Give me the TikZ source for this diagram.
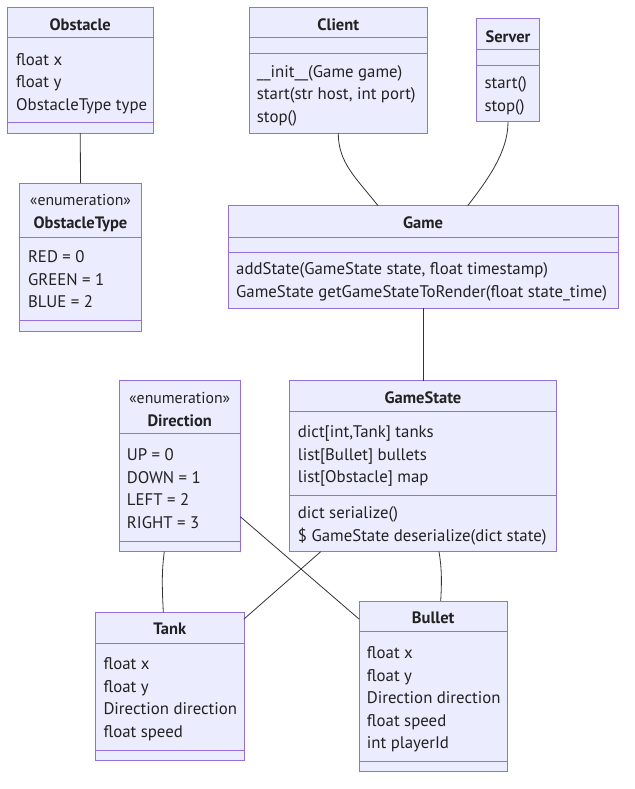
\documentclass[tikz,border=0pt]{standalone}
\usepackage{fontspec}
\setmainfont{PT Sans}
\definecolor{boxfill}{HTML}{ECECFF}
\definecolor{boxline}{HTML}{9370DB}
\definecolor{edgec}{HTML}{333333}
\definecolor{txtc}{HTML}{222222}
\begin{document}
\begin{tikzpicture}[x=1pt,y=-1pt,
  cls/.style={draw=boxline, fill=boxfill, line width=1pt, anchor=north west, inner sep=0pt, outer sep=0pt},
  sepl/.style={draw=boxline, line width=1pt},
  txt/.style={anchor=base west, inner sep=0pt, font=\fontsize{16.8}{19}\selectfont, text=txtc},
  ttl/.style={anchor=base, inner sep=0pt, font=\fontsize{16.5}{19}\selectfont\bfseries, text=txtc},
  ster/.style={anchor=base, inner sep=0pt, font=\fontsize{15.8}{17}\selectfont, text=txtc},
  link/.style={draw=edgec, line width=0.8pt}]
\useasboundingbox (0,0) rectangle (634,789);
\fill[white] (0,0) rectangle (634,789);

% ---------- Obstacle
\node[cls, minimum width=145.5pt, minimum height=125.5pt] (obst) at (7.5,7.5) {};
\draw[sepl] (7.5,38) -- (153,38);
\draw[sepl] (7.5,123) -- (153,123);
\node[ttl] (obstT) at (80.25,30.5) {Obstacle};
\foreach \t [count=\i] in {float x, float y, ObstacleType type}
  \node[txt] (obstA\i) at (16,{65.5+(\i-1)*22.5}) {\t};

% ---------- ObstacleType
\node[cls, minimum width=122pt, minimum height=148pt] (otype) at (19.5,183) {};
\draw[sepl] (19.5,237) -- (141.5,237);
\draw[sepl] (19.5,320) -- (141.5,320);
\node[ster] (otypeS) at (80.5,205) {«enumeration»};
\node[ttl] (otypeT) at (80.5,228.5) {ObstacleType};
\foreach \t [count=\i] in {RED = 0, GREEN = 1, BLUE = 2}
  \node[txt] (otypeA\i) at (27.8,{262.5+(\i-1)*22.5}) {\t};

% ---------- Client
\node[cls, minimum width=177.5pt, minimum height=125.5pt] (client) at (249.5,7.5) {};
\draw[sepl] (249.5,38) -- (427,38);
\draw[sepl] (249.5,54) -- (427,54);
\node[ttl] (clientT) at (338.25,30.5) {Client};
\foreach \t [count=\i] in {{\_\_init\_\_(Game game)}, {start(str host, int port)}, {stop()}}
  \node[txt] (clientM\i) at (256.7,{77.5+(\i-1)*22.5}) {\t};

% ---------- Server
\node[cls, minimum width=62.6pt, minimum height=103pt] (server) at (476.7,19) {};
\draw[sepl] (476.7,50) -- (539.3,50);
\draw[sepl] (476.7,66) -- (539.3,66);
\node[ttl] (serverT) at (508,42.5) {Server};
\foreach \t [count=\i] in {start(), stop()}
  \node[txt] (serverM\i) at (484.3,{88.5+(\i-1)*22.5}) {\t};

% ---------- Game
\node[cls, minimum width=390pt, minimum height=102.3pt] (game) at (228,205.7) {};
\draw[sepl] (228,237) -- (618,237);
\draw[sepl] (228,252.5) -- (618,252.5);
\node[ttl] (gameT) at (423,228.5) {Game};
\foreach \t [count=\i] in {{addState(GameState state, float timestamp)}, {GameState getGameStateToRender(float state\_time)}}
  \node[txt] (gameM\i) at (236,{274.5+(\i-1)*22.5}) {\t};

% ---------- GameState
\node[cls, minimum width=267.4pt, minimum height=171pt] (gs) at (289.3,380.7) {};
\draw[sepl] (289.3,411.7) -- (556.7,411.7);
\draw[sepl] (289.3,495.3) -- (556.7,495.3);
\node[ttl] (gsT) at (423,403.5) {GameState};
\foreach \t [count=\i] in {{dict[int,Tank] tanks}, {list[Bullet] bullets}, {list[Obstacle] map}}
  \node[txt] (gsA\i) at (297.7,{437.5+(\i-1)*22.5}) {\t};
\foreach \t [count=\i] in {{dict serialize()}, {\$ GameState deserialize(dict state)}}
  \node[txt] (gsM\i) at (297.7,{518.5+(\i-1)*22.5}) {\t};

% ---------- Direction
\node[cls, minimum width=121.3pt, minimum height=171pt] (dir) at (119,380.7) {};
\draw[sepl] (119,433.3) -- (240.3,433.3);
\draw[sepl] (119,541.7) -- (240.3,541.7);
\node[ster] (dirS) at (179.7,403) {«enumeration»};
\node[ttl] (dirT) at (179.7,426.5) {Direction};
\foreach \t [count=\i] in {UP = 0, DOWN = 1, LEFT = 2, RIGHT = 3}
  \node[txt] (dirA\i) at (126.7,{460.5+(\i-1)*22.5}) {\t};

% ---------- Tank
\node[cls, minimum width=148.3pt, minimum height=148pt] (tank) at (95.7,612.3) {};
\draw[sepl] (95.7,643) -- (244,643);
\draw[sepl] (95.7,750) -- (244,750);
\node[ttl] (tankT) at (169.8,634.5) {Tank};
\foreach \t [count=\i] in {float x, float y, Direction direction, float speed}
  \node[txt] (tankA\i) at (103.3,{669.5+(\i-1)*22.5}) {\t};

% ---------- Bullet
\node[cls, minimum width=148.3pt, minimum height=170.7pt] (bullet) at (359,601) {};
\draw[sepl] (359,631.3) -- (507.3,631.3);
\draw[sepl] (359,761) -- (507.3,761);
\node[ttl] (bulletT) at (433.2,623.2) {Bullet};
\foreach \t [count=\i] in {float x, float y, Direction direction, float speed, int playerId}
  \node[txt] (bulletA\i) at (366.7,{658.8+(\i-1)*22.5}) {\t};

% ---------- connector end points
\coordinate (gameInC) at (378,205.7);
\coordinate (gameInS) at (467.7,205.7);
\coordinate (dirOutT) at (164.3,551.7);
\coordinate (tankInD) at (163.3,612.3);
\coordinate (dirOutB) at (240.3,516.7);
\coordinate (bulletInD) at (359,619);
\coordinate (gsOutT) at (320.7,551.7);
\coordinate (tankInG) at (244,619);
\coordinate (gsOutB) at (439,551.7);
\coordinate (bulletInG) at (440.7,601);

% ---------- connectors
\draw[link] (obst.south) -- (otype.north);
\draw[link] (client.south) .. controls +(0,30) and +(-22,-28) .. (gameInC);
\draw[link] (server.south) .. controls +(0,30) and +(20,-26) .. (gameInS);
\draw[link] (game.south) -- (gs.north);
\draw[link] (dirOutT) .. controls +(-3,22) and +(-1,-22) .. (tankInD);
\draw[link] (dirOutB) -- (bulletInD);
\draw[link] (gsOutT) -- (tankInG);
\draw[link] (gsOutB) .. controls +(3,18) and +(1,-18) .. (bulletInG);
\end{tikzpicture}
\end{document}
